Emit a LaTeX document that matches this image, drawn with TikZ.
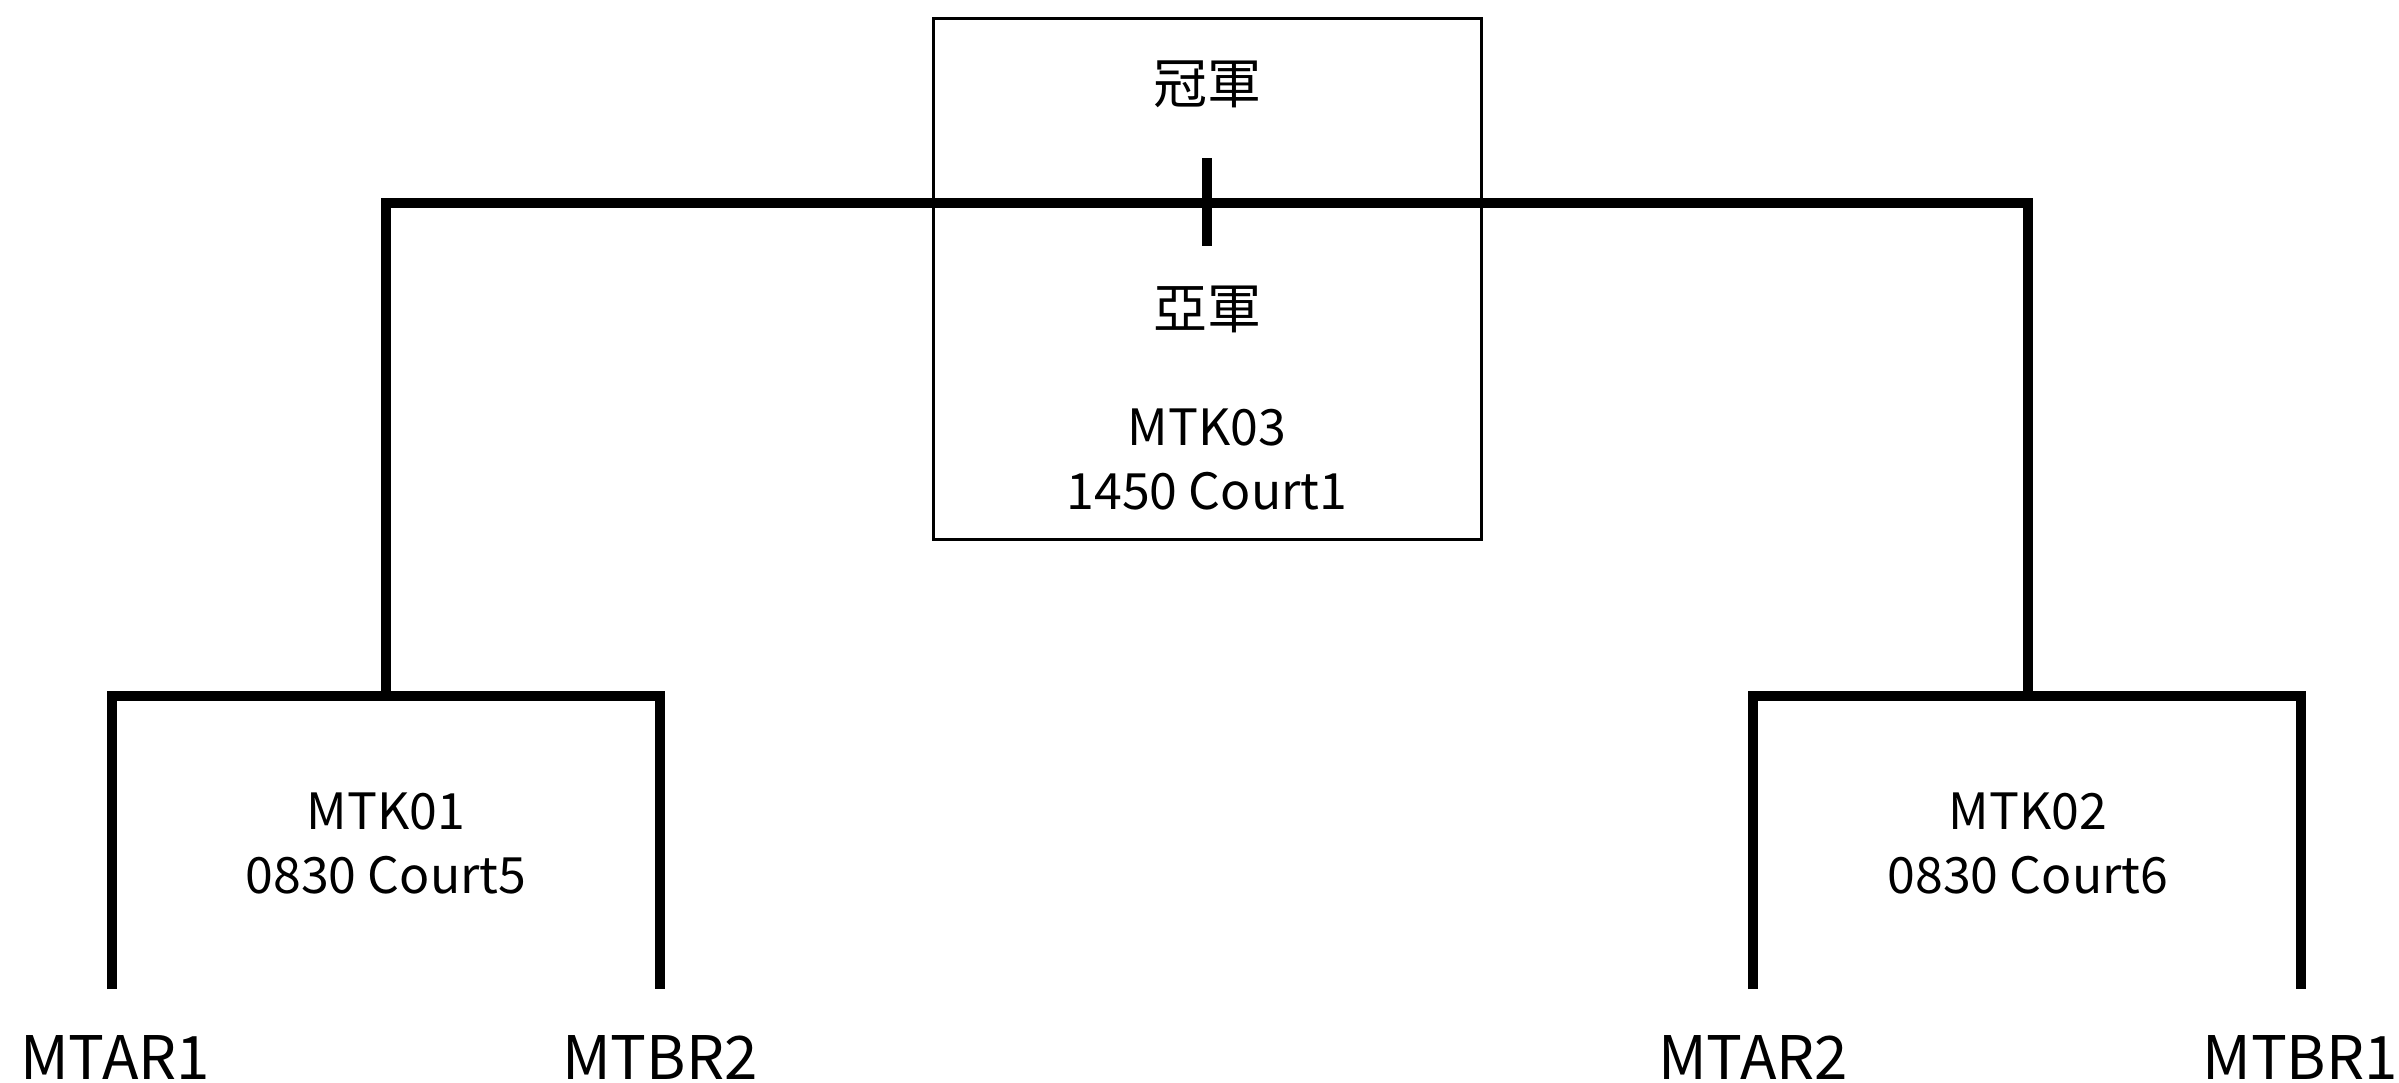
\documentclass[tikz,border=0pt]{standalone}
\usepackage{fontspec}
\setmainfont{Noto Sans CJK TC}
\begin{document}
\begin{tikzpicture}[x=1pt,y=-1pt,
  bracketline/.style={line width=9.5pt,line join=miter,line cap=butt},
  boxline/.style={line width=3pt},
  boxtext/.style={inner sep=0pt,align=center,font=\fontsize{50}{64}\selectfont},
  cjktext/.style={inner sep=0pt,anchor=base,font=\fontsize{54}{60}\selectfont},
  teamtext/.style={inner sep=0pt,font=\fontsize{60}{70}\selectfont}]
\useasboundingbox (0,0) rectangle (2399,1082);
% final box
\draw[boxline] (933,18) rectangle (1481,539);
\node[cjktext] (champ) at (1207,103) {冠軍};
\node[cjktext] (runner) at (1207,328) {亞軍};
\node[boxtext] (mtk03) at (1207,459) {MTK03\\1450 Court1};
% semifinal labels
\node[boxtext] (mtk01) at (386,843) {MTK01\\0830 Court5};
\node[boxtext] (mtk02) at (2028,843) {MTK02\\0830 Court6};
% teams
\node[teamtext] (mtar1) at (115,1057) {MTAR1};
\node[teamtext] (mtbr2) at (660,1057) {MTBR2};
\node[teamtext] (mtar2) at (1753,1057) {MTAR2};
\node[teamtext] (mtbr1) at (2300,1057) {MTBR1};
% bracket coordinates
\coordinate (a1) at (112,989);
\coordinate (a2) at (660,989);
\coordinate (b1) at (1753,989);
\coordinate (b2) at (2301,989);
\coordinate (lm) at (386,696);
\coordinate (rm) at (2028,696);
\coordinate (ticktop) at (1207,158);
\coordinate (tickbot) at (1207,246);
% brackets
\draw[bracketline] (a1) |- (lm) -| (a2);
\draw[bracketline] (b1) |- (rm) -| (b2);
\draw[bracketline] (lm) -- (386,203) -- (2028,203) -- (rm);
\draw[bracketline] (ticktop) -- (tickbot);
\end{tikzpicture}
\end{document}
